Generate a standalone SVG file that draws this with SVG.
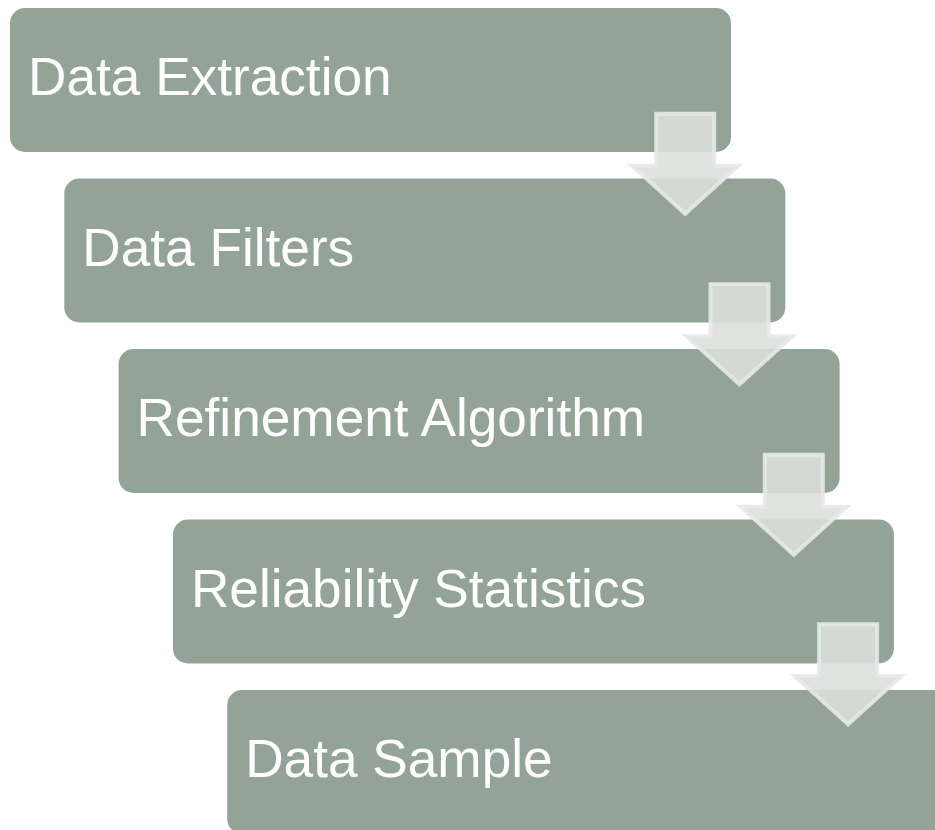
<svg xmlns="http://www.w3.org/2000/svg" width="935" height="830" viewBox="0 0 935 830">
  <defs>
    <style>
      .box { fill: #93a397; }
      .lbl { fill: #ffffff; font-family: "Liberation Sans", Arial, sans-serif; font-size: 53.2px; }
      .arrow { fill: #dbdfdc; fill-opacity: 0.9; stroke: #e6e9e7; stroke-opacity: 0.9; stroke-width: 4; stroke-linejoin: miter; }
    </style>
    <path id="arr" d="M -29 0 H 29 V 52 H 53 L 0 100 L -53 52 H -29 Z"/>
  </defs>
  <rect width="935" height="830" fill="#ffffff"/>
  <g id="node1">
    <rect class="box" x="10" y="8" width="721" height="144" rx="15"/>
    <text class="lbl" x="28" y="95">Data Extraction</text>
  </g>
  <g id="node2">
    <rect class="box" x="64.3" y="178.5" width="721" height="144" rx="15"/>
    <text class="lbl" x="82.3" y="265.5">Data Filters</text>
  </g>
  <g id="node3">
    <rect class="box" x="118.6" y="349" width="721" height="144" rx="15"/>
    <text class="lbl" x="136.6" y="436">Refinement Algorithm</text>
  </g>
  <g id="node4">
    <rect class="box" x="172.9" y="519.5" width="721" height="144" rx="15"/>
    <text class="lbl" x="190.9" y="606.5">Reliability Statistics</text>
  </g>
  <g id="node5">
    <rect class="box" x="227.2" y="690" width="721" height="144" rx="15"/>
    <text class="lbl" x="245.2" y="777">Data Sample</text>
  </g>
  <g id="connectors">
    <use href="#arr" class="arrow" transform="translate(685.2,113.7)"/>
    <use href="#arr" class="arrow" transform="translate(739.5,284.2)"/>
    <use href="#arr" class="arrow" transform="translate(793.8,454.7)"/>
    <use href="#arr" class="arrow" transform="translate(848.1,624.3)"/>
  </g>
</svg>
